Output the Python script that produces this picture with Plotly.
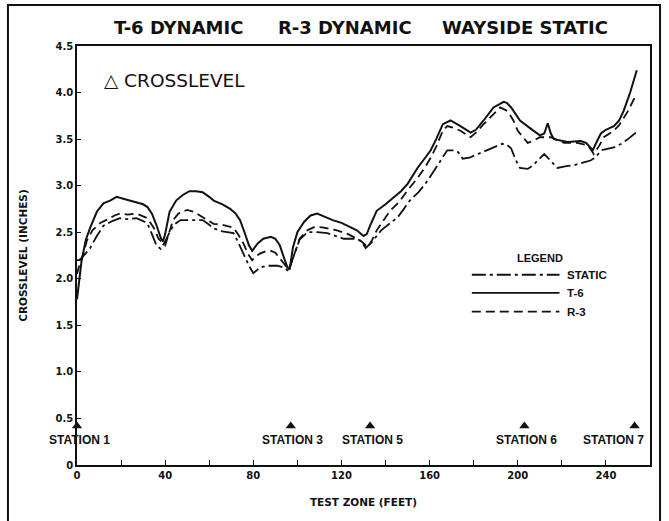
import plotly.graph_objects as go

# ---------------- data ----------------
t6_x = [0, 1, 2, 4, 6, 9, 12, 15, 18, 21, 24, 27, 30, 32, 34, 36, 38, 39, 40, 42, 45, 48, 51, 54, 57, 60, 62, 66,
        69.5, 72, 74, 76, 78, 79.5, 82, 84.5, 88, 90, 92, 94, 95.5, 96.5, 98, 100, 103, 106, 109, 112, 116, 120,
        124, 127, 130, 131.5, 133, 136, 140, 143.6, 147, 150, 154.5, 158, 160.5, 163, 166, 169.5, 172, 174,
        178.6, 181, 184.5, 187, 189, 193.6, 195, 197, 201, 206, 210, 212, 213.6, 215, 216.4, 222.7, 228.6, 231,
        234, 236, 237.7, 240, 243.6, 246, 248, 251, 254]
t6_y = [1.78, 1.98, 2.18, 2.42, 2.55, 2.72, 2.81, 2.84, 2.88, 2.86, 2.84, 2.82, 2.80, 2.77, 2.70, 2.58, 2.44, 2.40,
        2.48, 2.72, 2.84, 2.90, 2.94, 2.94, 2.93, 2.88, 2.84, 2.80, 2.75, 2.70, 2.63, 2.50, 2.36, 2.30, 2.38, 2.43,
        2.45, 2.43, 2.36, 2.22, 2.12, 2.10, 2.34, 2.50, 2.61, 2.68, 2.70, 2.67, 2.63, 2.60, 2.55, 2.52, 2.46, 2.48,
        2.57, 2.73, 2.80, 2.87, 2.94, 3.02, 3.19, 3.30, 3.38, 3.50, 3.66, 3.70, 3.67, 3.64, 3.57, 3.60, 3.70, 3.78,
        3.84, 3.90, 3.89, 3.84, 3.70, 3.61, 3.54, 3.56, 3.67, 3.56, 3.50, 3.47, 3.48, 3.46, 3.38, 3.48, 3.56, 3.60,
        3.64, 3.70, 3.80, 4.00, 4.24]

r3_x = [0, 1, 3, 4.5, 7, 10.5, 14, 17, 19.5, 23, 27, 30, 32, 35, 37, 40, 42, 43.6, 46, 50, 53, 57, 60, 62, 66, 71,
        73, 75.5, 77.5, 79.5, 81, 83, 86, 88, 90, 92, 94, 96, 98, 101, 104.5, 108, 112, 118, 123, 128.6, 132, 134,
        136, 139, 142, 146, 150, 154.5, 158, 160.5, 163, 166, 168, 171, 174, 178.6, 181, 184.5, 188, 192, 195.5,
        198, 200, 204.5, 207, 210, 215, 218, 221, 227, 232, 234.5, 237, 239, 243.6, 246, 248, 250, 252.7, 254]
r3_y = [2.05, 2.14, 2.28, 2.41, 2.52, 2.60, 2.64, 2.68, 2.70, 2.69, 2.70, 2.67, 2.65, 2.54, 2.43, 2.36, 2.50, 2.63,
        2.70, 2.74, 2.72, 2.66, 2.62, 2.59, 2.58, 2.55, 2.48, 2.38, 2.27, 2.20, 2.24, 2.27, 2.30, 2.30, 2.28, 2.22,
        2.16, 2.10, 2.22, 2.43, 2.52, 2.56, 2.55, 2.52, 2.48, 2.41, 2.34, 2.42, 2.52, 2.62, 2.73, 2.82, 2.95, 3.08,
        3.20, 3.30, 3.42, 3.59, 3.64, 3.62, 3.59, 3.52, 3.57, 3.66, 3.74, 3.84, 3.80, 3.70, 3.59, 3.46, 3.48, 3.52,
        3.52, 3.49, 3.46, 3.46, 3.43, 3.34, 3.43, 3.52, 3.59, 3.65, 3.73, 3.80, 3.93, 3.91]

static_x = [0, 1, 2, 4, 6, 9, 12, 16, 19.5, 23, 27, 30, 32, 34, 36, 38, 40, 42, 44, 47, 52, 57, 60, 62, 66, 71, 73,
            75.5, 78, 80, 83, 86, 88, 91, 94, 96, 98, 101, 104.5, 109, 113.6, 117, 121, 127, 129, 131, 134, 138,
            142, 145.5, 148, 151, 155, 159, 162, 165, 168, 171, 173, 175, 178, 182, 185, 188, 193, 195, 197, 199,
            201, 204.5, 207, 209, 212, 214, 218, 222, 225.5, 230, 233, 235, 238, 243.6, 247, 250, 253.6]
static_y = [2.20, 2.20, 2.22, 2.27, 2.33, 2.46, 2.57, 2.62, 2.65, 2.64, 2.65, 2.62, 2.59, 2.48, 2.36, 2.32, 2.40,
            2.50, 2.58, 2.63, 2.63, 2.63, 2.58, 2.54, 2.51, 2.49, 2.40, 2.27, 2.14, 2.06, 2.12, 2.14, 2.14, 2.14,
            2.12, 2.08, 2.22, 2.42, 2.50, 2.50, 2.49, 2.46, 2.43, 2.43, 2.40, 2.33, 2.40, 2.52, 2.60, 2.66, 2.74,
            2.84, 2.93, 3.05, 3.16, 3.27, 3.38, 3.38, 3.36, 3.29, 3.30, 3.34, 3.37, 3.40, 3.45, 3.44, 3.40, 3.28,
            3.19, 3.18, 3.22, 3.27, 3.34, 3.29, 3.19, 3.21, 3.22, 3.25, 3.27, 3.30, 3.38, 3.41, 3.45, 3.50, 3.57]

station_labels = ["STATION 1", "STATION 3", "STATION 5", "STATION 6", "STATION 7"]
station_x = [0, 97, 133, 203, 253]
station_y = 0.42

x_tickvals = [0, 40, 80, 120, 160, 200, 240]
x_ticktext = ["0", "40", "80", "120", "160", "200", "240"]
y_tickvals = [0, 0.5, 1.0, 1.5, 2.0, 2.5, 3.0, 3.5, 4.0, 4.5]
y_ticktext = ["0", "0.5", "1.0", "1.5", "2.0", "2.5", "3.0", "3.5", "4.0", "4.5"]

legend_names = ["STATIC", "T-6", "R-3"]

# ---------------- styles ----------------
BLACK = "#111111"
DASH_STATIC = "14px,4px,3px,4px"
DASH_R3 = "9px,5px"
styles = {"STATIC": DASH_STATIC, "T-6": "solid", "R-3": DASH_R3}

FONT_B = "DejaVu Sans"
FONT_N = "Liberation Sans"

fig = go.Figure()

fig.add_trace(go.Scatter(x=static_x, y=static_y, mode="lines", name="STATIC",
                         line=dict(color=BLACK, width=1.8, dash=DASH_STATIC), showlegend=False))
fig.add_trace(go.Scatter(x=r3_x, y=r3_y, mode="lines", name="R-3",
                         line=dict(color=BLACK, width=1.8, dash=DASH_R3), showlegend=False))
fig.add_trace(go.Scatter(x=t6_x, y=t6_y, mode="lines", name="T-6",
                         line=dict(color=BLACK, width=2), showlegend=False))

# station markers
fig.add_trace(go.Scatter(x=station_x, y=[station_y] * len(station_x), mode="markers",
                         marker=dict(symbol="triangle-up", size=9, color=BLACK),
                         showlegend=False, cliponaxis=False, hoverinfo="skip"))

for i, (lab, sx) in enumerate(zip(station_labels, station_x)):
    last = i == len(station_labels) - 1
    fig.add_annotation(x=sx, y=station_y, yshift=-14, text=lab, showarrow=False,
                       xanchor="right" if last else "center", xshift=11 if last else 2,
                       font=dict(family=FONT_N, size=12, color=BLACK, weight="bold"))

# plot title pieces
title_parts = ["T-6 DYNAMIC", "R-3 DYNAMIC", "WAYSIDE STATIC"]
title_centers = [0.178, 0.468, 0.782]
for t, c in zip(title_parts, title_centers):
    fig.add_annotation(x=c, y=1.045, xref="paper", yref="paper", text=t, showarrow=False,
                       xanchor="center", yanchor="middle",
                       font=dict(family=FONT_B, size=18, color=BLACK, weight="bold"))

fig.add_annotation(x=0.043, y=0.917, xref="paper", yref="paper", text="△ CROSSLEVEL", showarrow=False,
                   xanchor="left", yanchor="middle", font=dict(family=FONT_B, size=18.5, color=BLACK))

# legend (drawn manually)
fig.add_annotation(x=0.808, y=0.493, xref="paper", yref="paper", text="LEGEND", showarrow=False,
                   xanchor="center", yanchor="middle",
                   font=dict(family=FONT_N, size=11, color=BLACK, weight="bold"))
leg_y = [0.454, 0.411, 0.366]
for name, ly in zip(legend_names, leg_y):
    fig.add_shape(type="line", xref="paper", yref="paper", x0=0.689, x1=0.842, y0=ly, y1=ly,
                  line=dict(color=BLACK, width=1.8, dash=styles[name]))
    fig.add_annotation(x=0.852, y=ly, xref="paper", yref="paper", text=name, showarrow=False,
                       xanchor="left", yanchor="middle",
                       font=dict(family=FONT_N, size=11.5, color=BLACK, weight="bold"))

# outer frame
fig.add_shape(type="path", xref="paper", yref="paper",
              path="M -0.1205,-0.2 L -0.1205,1.098 L 1.0175,1.098 L 1.0175,-0.2",
              line=dict(color=BLACK, width=2))

fig.update_xaxes(range=[0, 260], tickvals=x_tickvals, ticktext=x_ticktext, automargin=False,
                 showline=True, linecolor=BLACK, linewidth=1.5, mirror=True,
                 ticks="inside", ticklen=5, tickcolor=BLACK, tickwidth=1.3,
                 minor=dict(dtick=20, tick0=0, ticks="inside", ticklen=5, tickcolor=BLACK, tickwidth=1.3),
                 showgrid=False, zeroline=False,
                 tickfont=dict(family=FONT_B, size=10, color=BLACK, weight="bold"),
                 title=dict(text="TEST ZONE (FEET)", standoff=19,
                            font=dict(family=FONT_B, size=10.5, color=BLACK, weight="bold")))
fig.update_yaxes(range=[0, 4.5], tickvals=y_tickvals, ticktext=y_ticktext, automargin=False,
                 showline=True, linecolor=BLACK, linewidth=1.5, mirror=True,
                 ticks="inside", ticklen=4, tickcolor=BLACK, tickwidth=1.3,
                 showgrid=False, zeroline=False,
                 tickfont=dict(family=FONT_B, size=10, color=BLACK, weight="bold"),
                 title=dict(text="CROSSLEVEL (INCHES)", standoff=26,
                            font=dict(family=FONT_B, size=10.5, color=BLACK, weight="bold")))

fig.update_layout(width=669, height=521, plot_bgcolor="white", paper_bgcolor="white",
                  margin=dict(l=77, r=19, t=46, b=56), showlegend=False)

fig.write_html("out.html", config={"displayModeBar": False},
               post_script="document.body.style.margin='0';document.body.style.padding='0';")
